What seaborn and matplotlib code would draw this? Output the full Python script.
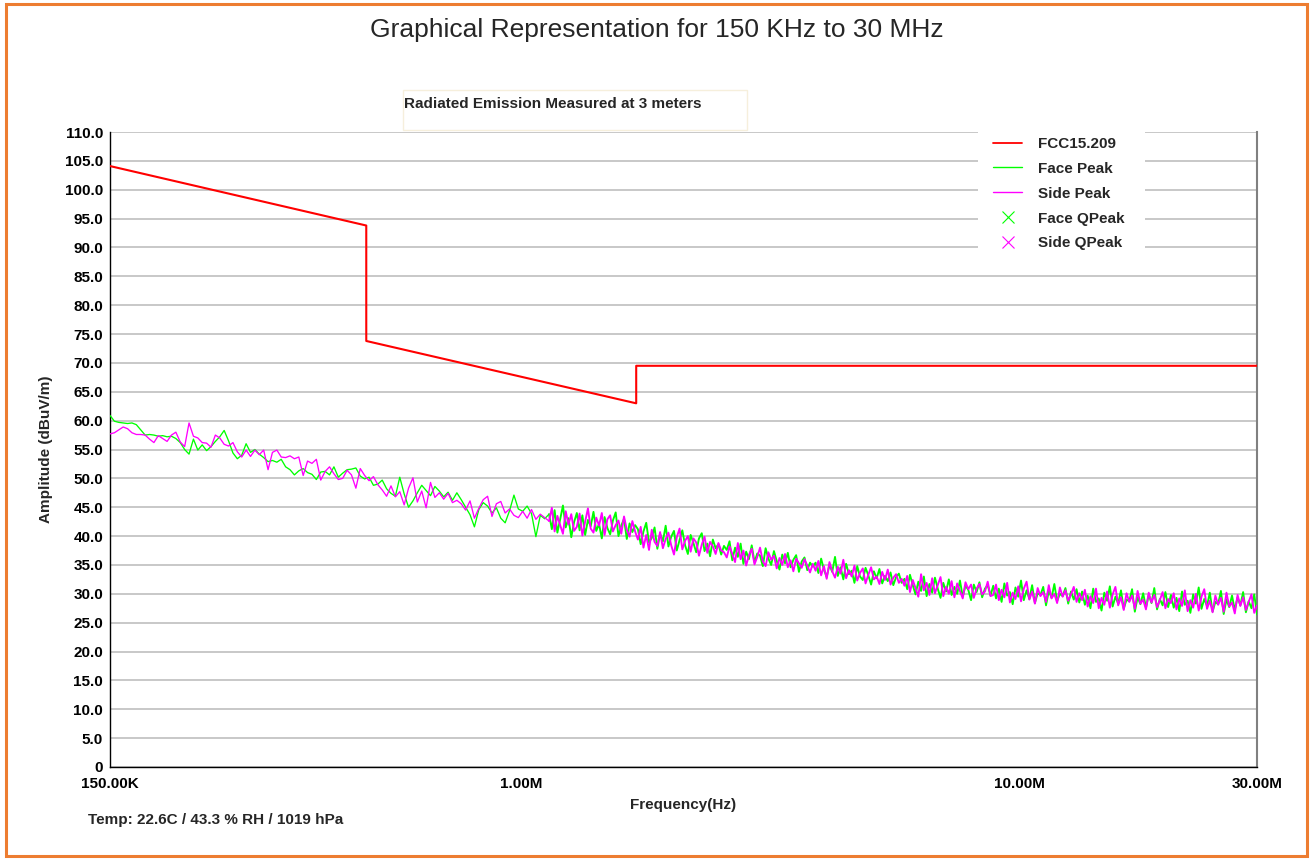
import numpy as np
import pandas as pd
import matplotlib
matplotlib.use("Agg")
import matplotlib.pyplot as plt
import seaborn as sns
from matplotlib.lines import Line2D
from matplotlib.patches import Rectangle
from matplotlib.ticker import FixedLocator, FixedFormatter, MultipleLocator, FuncFormatter, NullFormatter

# ---------------- text ----------------
TITLE = "Graphical Representation for 150 KHz to 30 MHz"
SUBTITLE = "Radiated Emission Measured at 3 meters"
Y_LABEL = "Amplitude (dBuV/m)"
X_LABEL = "Frequency(Hz)"
FOOTER = "Temp: 22.6C / 43.3 % RH / 1019 hPa"
SERIES_NAMES = ["FCC15.209", "Face Peak", "Side Peak", "Face QPeak", "Side QPeak"]

# ---------------- axis ticks ----------------
X_MAJOR_TICKS = [150e3, 1e6, 10e6, 30e6]
X_MAJOR_LABELS = ["150.00K", "1.00M", "10.00M", "30.00M"]
X_MINOR_TICKS = [200e3, 300e3, 400e3, 500e3, 600e3, 700e3, 800e3, 900e3,
                 2e6, 3e6, 4e6, 5e6, 6e6, 7e6, 8e6, 9e6, 20e6]
X_RANGE = [150e3, 30e6]
Y_RANGE = [0, 110]

# ---------------- limit line FCC15.209 ----------------
LIMIT_FREQ = [150e3, 490e3, 490e3, 1.705e6, 1.705e6, 30e6]
LIMIT_DB = [104.1, 93.8, 73.8, 63.0, 69.5, 69.5]

# ---------------- measured traces ----------------
# 150 kHz - 1.14 MHz
FACE_PEAK_LOW = [
    60.9, 59.9, 59.7, 59.6, 59.5, 59.6, 59.3, 58.4, 57.5, 57.6, 57.5, 57.3, 57.4, 57.2, 57.3, 56.9, 56.2, 55.0, 54.2, 56.8,
    54.9, 55.8, 54.8, 55.5, 56.4, 57.2, 58.3, 56.5, 54.4, 53.4, 54.0, 56.0, 54.5, 55.0, 54.2, 53.6, 52.9, 53.1, 52.8, 53.3,
    52.0, 51.5, 50.6, 51.3, 51.7, 51.0, 50.7, 49.8, 51.1, 51.2, 50.6, 52.0, 50.2, 50.9, 51.5, 51.6, 51.8, 50.4, 49.9, 50.2,
    48.8, 49.0, 49.7, 48.2, 47.4, 46.9, 50.2, 47.3, 45.0, 46.1, 47.5, 48.8, 47.9, 47.0, 48.6, 47.8, 46.8, 47.6, 46.2, 47.5,
    46.3, 45.0, 43.7, 41.6, 44.6, 45.8, 45.2, 44.0, 44.9, 43.1, 42.3, 44.4, 47.1, 44.7, 44.3, 45.2, 43.9, 39.9, 43.6, 43.0,
]
SIDE_PEAK_LOW = [
    57.7, 57.9, 58.4, 58.9, 58.6, 57.9, 57.6, 57.6, 57.5, 56.8, 56.2, 57.4, 56.9, 56.4, 57.5, 58.0, 56.3, 55.5, 59.6, 57.3,
    57.0, 56.2, 56.1, 55.4, 57.5, 57.0, 55.9, 55.6, 56.2, 54.6, 53.7, 54.9, 53.8, 54.9, 54.1, 54.9, 51.5, 54.5, 54.9, 53.7,
    53.6, 53.9, 53.4, 53.7, 50.5, 53.0, 52.6, 53.3, 49.7, 51.2, 52.0, 50.8, 49.8, 50.0, 51.4, 50.6, 48.3, 51.7, 50.5, 49.6,
    50.3, 48.9, 48.0, 46.9, 48.7, 46.8, 47.7, 45.4, 48.3, 50.1, 45.9, 47.8, 44.9, 49.3, 46.7, 47.5, 46.4, 47.4, 45.8, 46.2,
    45.6, 44.5, 46.1, 43.1, 44.8, 46.3, 46.9, 43.4, 45.6, 46.0, 44.0, 44.7, 43.6, 43.2, 44.3, 43.1, 44.6, 42.9, 43.8, 43.2,
]
# 1.14 MHz - 30 MHz
FACE_PEAK_HIGH = [
    43.8, 41.2, 44.5, 40.6, 42.9, 45.3, 41.5, 43.1, 39.8, 42.4, 44.0, 41.0, 43.6, 40.2, 42.8, 41.7,
    44.2, 40.9, 42.1, 39.6, 43.3, 41.4, 40.3, 42.7, 44.1, 40.0, 41.8, 43.0, 39.5, 42.2, 40.7, 41.9,
    41.2, 38.6, 40.8, 42.3, 38.9, 39.7, 41.5, 37.8, 40.4, 39.1, 41.8, 38.2, 39.9, 40.9, 37.5, 39.3,
    41.0, 38.4, 36.9, 40.2, 38.8, 37.2, 39.6, 40.5, 37.4, 38.7, 36.5, 39.4, 37.9, 38.6, 36.8, 38.3,
    37.6, 39.1, 35.8, 38.0, 36.4, 38.7, 35.2, 37.3, 36.0, 38.4, 35.5, 37.0, 36.6, 34.8, 37.9, 36.1,
    35.0, 37.4, 35.7, 34.2, 36.8, 35.3, 37.1, 34.6, 35.9, 36.7, 33.8, 35.6, 36.3, 34.1, 35.4, 34.7,
    35.4, 33.6, 36.1, 34.2, 32.9, 35.0, 33.8, 36.4, 33.1, 34.6, 32.5, 35.2, 33.4, 34.0, 31.9, 34.8,
    33.0, 32.4, 34.5, 33.2, 31.6, 33.9, 32.7, 34.3, 31.8, 33.1, 32.2, 33.7, 31.5, 32.9, 33.5, 31.9,
    32.6, 30.8, 33.3, 31.5, 29.9, 32.1, 30.5, 33.0, 29.6, 31.7, 30.2, 32.8, 30.9, 29.3, 31.9, 30.4,
    32.5, 29.8, 31.2, 30.0, 32.3, 29.5, 31.4, 30.7, 28.9, 31.6, 30.3, 32.0, 29.4, 30.9, 31.5, 29.7,
    31.4, 29.2, 30.9, 28.6, 31.8, 29.7, 30.3, 28.2, 31.1, 29.5, 32.3, 28.9, 30.6, 29.1, 31.5, 28.4,
    30.1, 29.8, 31.2, 28.0, 30.5, 29.3, 31.7, 28.7, 30.0, 29.6, 31.0, 28.3, 30.4, 29.0, 30.8, 28.5,
    30.4, 28.1, 29.7, 27.5, 30.9, 28.6, 29.2, 27.1, 30.2, 28.8, 31.3, 27.8, 29.5, 28.3, 30.6, 27.4,
    29.0, 28.7, 30.8, 26.9, 29.4, 28.2, 30.1, 27.6, 29.8, 28.4, 31.0, 27.3, 29.1, 28.0, 30.3, 27.7,
    29.8, 27.6, 29.3, 27.0, 30.4, 28.1, 28.8, 26.7, 29.9, 28.3, 31.1, 27.4, 29.1, 27.9, 30.2, 26.9,
    28.6, 28.2, 30.5, 26.5, 29.0, 27.7, 29.7, 27.2, 29.4, 28.0, 30.3, 26.8, 28.7, 27.5, 29.9, 26.4,
]
SIDE_PEAK_HIGH = [
    42.6, 44.9, 40.8, 43.5, 41.9, 40.4, 44.3, 42.0, 43.8, 40.9, 41.6, 43.9, 40.1, 42.5, 44.8, 41.3,
    40.6, 43.2, 41.8, 44.0, 40.2, 42.9, 43.6, 40.8, 41.9, 42.7, 40.4, 43.4, 41.1, 39.9, 42.6, 40.8,
    39.4, 41.6, 38.0, 40.2, 37.6, 41.1, 39.0, 38.3, 40.7, 37.9, 39.5, 40.6, 38.4, 36.8, 39.8, 41.3,
    37.7, 39.2, 40.0, 37.3, 39.6, 38.9, 36.6, 38.5, 39.9, 37.1, 39.0, 38.2, 36.9, 38.8, 37.5, 37.2,
    36.3, 38.2, 36.9, 35.5, 38.8, 36.0, 37.5, 34.9, 36.7, 37.8, 35.1, 36.4, 38.0, 35.6, 34.8, 37.2,
    35.9, 36.6, 34.4, 36.2, 35.0, 36.9, 34.6, 35.8, 33.9, 36.1, 35.3, 34.5, 36.0, 34.9, 33.7, 35.2,
    34.0, 35.7, 33.2, 34.8, 32.6, 35.5, 33.9, 32.8, 34.7, 33.5, 35.9, 32.7, 34.1, 33.0, 34.9, 32.3,
    33.6, 34.4, 31.8, 33.3, 34.6, 32.5, 33.0, 31.7, 33.8, 32.4, 34.2, 31.6, 32.8, 33.4, 31.9, 32.6,
    31.4, 33.1, 30.3, 32.4, 31.0, 29.5, 33.4, 30.6, 31.9, 29.8, 32.7, 30.1, 31.5, 32.9, 29.6, 31.2,
    30.0, 32.2, 29.4, 31.8, 30.5, 29.2, 32.0, 30.8, 31.6, 29.3, 30.9, 31.7, 29.9, 30.4, 32.1, 29.6,
    29.8, 31.6, 28.9, 30.7, 29.4, 31.9, 28.5, 30.2, 29.1, 31.3, 28.7, 30.9, 32.1, 29.0, 30.4, 28.3,
    31.0, 29.6, 30.3, 28.6, 31.5, 29.2, 30.0, 28.4, 31.1, 29.5, 30.6, 28.8, 29.9, 31.2, 28.6, 30.1,
    28.9, 30.7, 27.8, 29.6, 28.4, 30.9, 27.5, 29.3, 28.1, 30.4, 27.6, 29.9, 31.2, 28.0, 29.4, 27.2,
    30.1, 28.6, 29.7, 27.4, 30.5, 28.3, 29.0, 27.3, 30.2, 28.5, 29.8, 27.7, 28.9, 30.3, 27.5, 29.1,
    28.4, 30.1, 27.3, 29.2, 27.9, 30.6, 27.0, 28.9, 27.6, 30.0, 27.1, 29.5, 30.8, 27.4, 28.8, 26.8,
    29.7, 28.1, 29.3, 26.9, 30.2, 27.8, 28.5, 26.6, 29.8, 27.9, 29.4, 27.2, 28.6, 29.9, 26.7, 28.0,
]

# sweep frequencies of the analyser (log spaced in two segments)
SWEEP_SPLIT = 1.14e6
FREQ_LOW = np.geomspace(X_RANGE[0], SWEEP_SPLIT, len(FACE_PEAK_LOW), endpoint=False)
FREQ_HIGH = np.geomspace(SWEEP_SPLIT, X_RANGE[1], len(FACE_PEAK_HIGH))

# ---------------- styles ----------------
C_RED = "#ff0000"
C_GREEN = "#00ff00"
C_MAGENTA = "#ff00ff"
C_BORDER = "#ED7D31"

sns.set_style("white")
plt.rcParams["font.family"] = ["Liberation Sans", "DejaVu Sans"]

W, H = 1314, 859
fig = plt.figure(figsize=(W / 100, H / 100), dpi=100)
fig.patch.set_facecolor("white")


def fx(px):
    return px / W


def fy(py):
    return 1 - py / H


AX_L, AX_R, AX_T, AX_B = 110, 1257, 132, 767
ax = fig.add_axes([fx(AX_L), fy(AX_B), fx(AX_R) - fx(AX_L), fy(AX_T) - fy(AX_B)])

df_limit = pd.DataFrame({"freq": LIMIT_FREQ, "db": LIMIT_DB})
# low band drawn thin (individual wiggles), dense high band drawn a bit heavier;
# the low part includes the first high-band sample so the trace stays continuous
df_face_low = pd.DataFrame({"freq": list(FREQ_LOW) + [FREQ_HIGH[0]],
                            "db": FACE_PEAK_LOW + [FACE_PEAK_HIGH[0]]})
df_side_low = pd.DataFrame({"freq": list(FREQ_LOW) + [FREQ_HIGH[0]],
                            "db": SIDE_PEAK_LOW + [SIDE_PEAK_HIGH[0]]})
df_face_high = pd.DataFrame({"freq": FREQ_HIGH, "db": FACE_PEAK_HIGH})
df_side_high = pd.DataFrame({"freq": FREQ_HIGH, "db": SIDE_PEAK_HIGH})

common = dict(ax=ax, x="freq", y="db", estimator=None, sort=False, legend=False)
sns.lineplot(data=df_face_low, color=C_GREEN, lw=0.95, zorder=3, **common)
sns.lineplot(data=df_face_high, color=C_GREEN, lw=1.35, zorder=3, **common)
sns.lineplot(data=df_side_low, color=C_MAGENTA, lw=0.95, zorder=3.1, **common)
sns.lineplot(data=df_side_high, color=C_MAGENTA, lw=1.35, zorder=3.1, **common)
sns.lineplot(data=df_limit, color=C_RED, lw=1.5, zorder=3.2, **common)

ax.set_xscale("log")
ax.set_xlim(*X_RANGE)
ax.set_ylim(*Y_RANGE)

ax.xaxis.set_major_locator(FixedLocator(X_MAJOR_TICKS))
ax.xaxis.set_major_formatter(FixedFormatter(X_MAJOR_LABELS))
ax.xaxis.set_minor_locator(FixedLocator(X_MINOR_TICKS))
ax.xaxis.set_minor_formatter(NullFormatter())

ax.yaxis.set_major_locator(MultipleLocator(5))
ax.yaxis.set_minor_locator(MultipleLocator(1))
ax.yaxis.set_major_formatter(FuncFormatter(lambda v, p: "0" if abs(v) < 1e-9 else f"{v:.1f}"))

ax.tick_params(axis="both", which="major", direction="inout", length=8, width=1,
               colors="black", labelsize=11)
ax.tick_params(axis="both", which="minor", direction="inout", length=5, width=0.8, colors="black")
ax.tick_params(axis="y", which="major", pad=1)
ax.tick_params(axis="x", which="major", pad=3)
for lab in ax.get_xticklabels() + ax.get_yticklabels():
    lab.set_fontweight("bold")

ax.yaxis.grid(True, which="major", color="#c8c8c8", lw=1.4)
ax.xaxis.grid(False)
ax.set_axisbelow(True)

ax.spines["top"].set_visible(False)
ax.spines["left"].set_color("black")
ax.spines["bottom"].set_color("black")
ax.spines["left"].set_linewidth(1.0)
ax.spines["bottom"].set_linewidth(1.0)
ax.spines["right"].set_color("#808080")
ax.spines["right"].set_linewidth(1.5)

ax.set_xlabel(X_LABEL, fontsize=11, fontweight="bold")
ax.set_ylabel(Y_LABEL, fontsize=11, fontweight="bold")
ax.xaxis.set_label_coords(0.5, -0.049)
ax.yaxis.set_label_coords((53 - AX_L) / (AX_R - AX_L), 0.5)

# legend background (hides grid lines)
ax.add_patch(Rectangle((fx(978), fy(256)), fx(1145) - fx(978), fy(131) - fy(256),
                       transform=fig.transFigure, facecolor="white", edgecolor="none",
                       zorder=4, clip_on=False))
handles = [
    Line2D([], [], color=C_RED, lw=1.3),
    Line2D([], [], color=C_GREEN, lw=1.0),
    Line2D([], [], color=C_MAGENTA, lw=1.0),
    Line2D([], [], color=C_GREEN, marker="x", ls="none", ms=8, mew=0.8),
    Line2D([], [], color=C_MAGENTA, marker="x", ls="none", ms=8, mew=0.8),
]
leg = ax.legend(handles, SERIES_NAMES, loc="upper left",
                bbox_to_anchor=(fx(993), fy(137)), bbox_transform=fig.transFigure,
                frameon=False, borderpad=0, borderaxespad=0, handlelength=1.9,
                handletextpad=1.05, labelspacing=0.71,
                prop={"size": 11, "weight": "bold"})
leg.set_zorder(5)

# titles and notes
fig.text(fx(657), fy(30), TITLE, ha="center", va="center", fontsize=19)
fig.patches.append(Rectangle((fx(403), fy(130)), fx(747) - fx(403), fy(90) - fy(130),
                             transform=fig.transFigure, facecolor="none",
                             edgecolor="#f6efdc", lw=1))
fig.text(fx(404), fy(104), SUBTITLE, ha="left", va="center", fontsize=11, fontweight="bold")
fig.text(fx(88), fy(820), FOOTER, ha="left", va="center", fontsize=11, fontweight="bold")

# orange frame
fig.patches.append(Rectangle((fx(6), fy(856)), fx(1307) - fx(6), fy(4) - fy(856),
                             transform=fig.transFigure, facecolor="none",
                             edgecolor=C_BORDER, lw=2.2))

fig.savefig("out.png", dpi=100)
